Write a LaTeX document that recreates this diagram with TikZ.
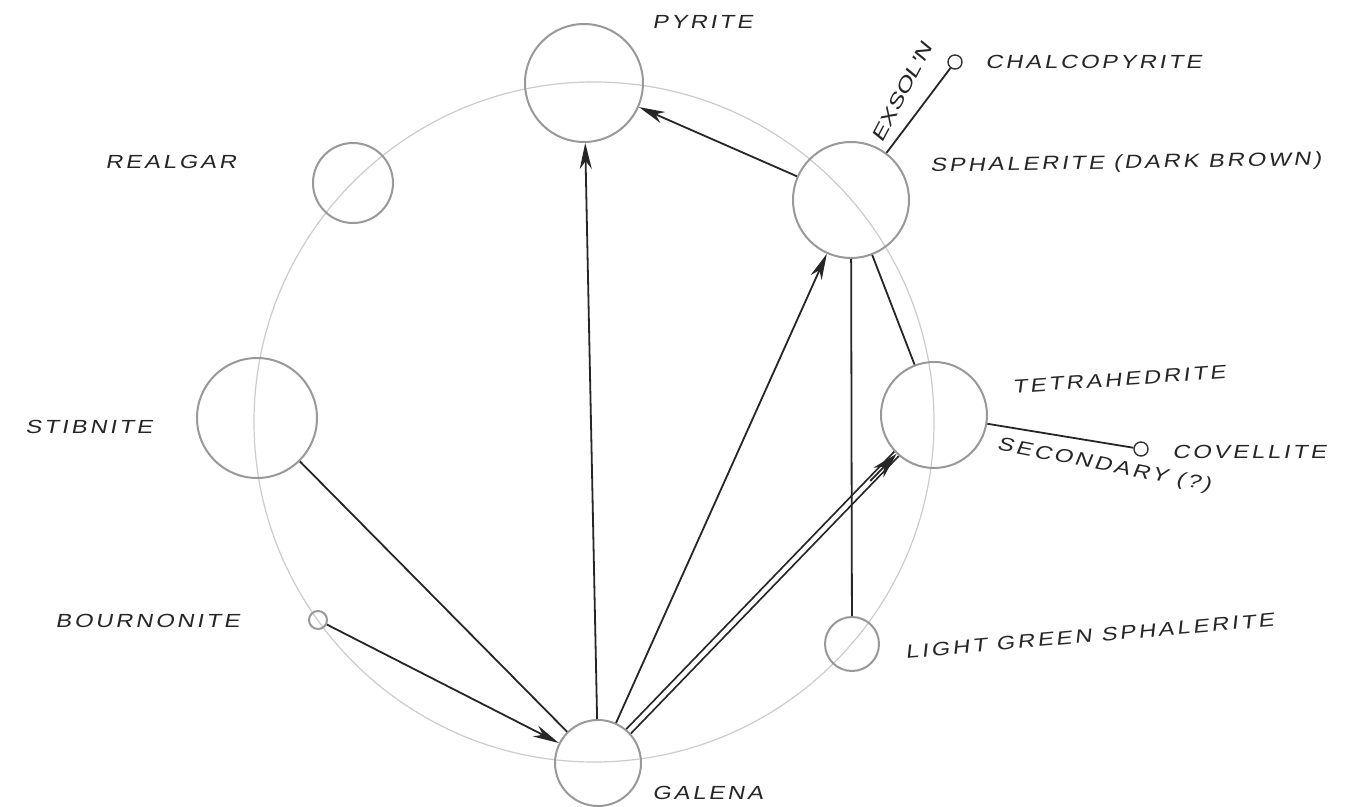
\documentclass[tikz,border=0pt]{standalone}
\usepackage{fontspec}
\newfontfamily\hand{Liberation Sans}[FakeSlant=0.2, FakeStretch=1.25, LetterSpace=15]
\newfontfamily\handtight{Liberation Sans}[FakeSlant=0.2, FakeStretch=1.35]
\usetikzlibrary{arrows.meta}
\begin{document}
\begin{tikzpicture}[x=0.5pt, y=-0.5pt,
  mineral/.style={circle, draw=black!40, line width=1pt, inner sep=0pt},
  tinyc/.style={circle, draw=black!80, line width=0.7pt, inner sep=0pt, minimum size=7pt},
  link/.style={draw=black!85, line width=0.9pt},
  arr/.style={link, -{Stealth[length=13pt, width=6pt, inset=4pt]}},
  lbl/.style={font=\fontsize{9.5}{11}\hand, text=black!85, inner sep=0pt},
]
\useasboundingbox[fill=white] (0,0) rectangle (1345,807);
\draw[black!20, line width=0.6pt] (594,422) circle[radius=170pt];

\node[mineral, minimum size=59pt] (pyrite) at (584,83) {};
\node[mineral, minimum size=40pt] (realgar) at (353,183) {};
\node[mineral, minimum size=60pt] (stibnite) at (257,418) {};
\node[mineral, minimum size=9pt] (bournonite) at (318,620) {};
\node[mineral, minimum size=43pt] (galena) at (598,763) {};
\node[mineral, minimum size=27pt] (lgsph) at (852,644) {};
\node[mineral, minimum size=53pt] (tetra) at (934,415) {};
\node[mineral, minimum size=58pt] (sphal) at (851,200) {};
\node[tinyc] (chalco) at (955,62) {};
\node[tinyc] (covel) at (1141,449) {};

\draw[link] (stibnite) -- (galena);
\draw[arr] (bournonite) -- (galena);
\draw[arr] (galena) -- (pyrite);
\draw[arr] (sphal) -- (pyrite);
\draw[arr] (galena) -- (sphal);
\draw[link, double=white, double distance=2.2pt] (galena) -- (tetra);
\draw[link, -{Stealth[length=13pt, width=7pt, inset=4pt]}, shorten <=174pt] (galena) -- (tetra);
\draw[link] (sphal) -- (lgsph);
\draw[link] (sphal) -- (tetra);
\draw[link] (sphal) -- (chalco);
\draw[link] (tetra) -- (covel);

\node[lbl, anchor=west] (lpyrite) at (652,22) {PYRITE};
\node[lbl, anchor=west] (lrealgar) at (105,162) {REALGAR};
\node[lbl, anchor=west] (lstibnite) at (25,427) {STIBNITE};
\node[lbl, anchor=west] (lbourn) at (55,621) {BOURNONITE};
\node[lbl, anchor=west] (lgalena) at (652,793) {GALENA};
\node[lbl, anchor=west, rotate=5] (llgsph) at (905,652) {LIGHT GREEN SPHALERITE};
\node[lbl, anchor=west, rotate=4] (ltetra) at (1012,387) {TETRAHEDRITE};
\node[lbl, anchor=west, rotate=-11] (lsec) at (997,445) {SECONDARY (?)};
\node[lbl, anchor=west] (lcovel) at (1172,452) {COVELLITE};
\node[lbl, anchor=west] (lchalco) at (985,62) {CHALCOPYRITE};
\node[lbl, anchor=west, rotate=1] (lsphal) at (930,167) {SPHALERITE (DARK BROWN)};
\node[lbl, font=\fontsize{9.5}{11}\handtight, rotate=62] (lexsol) at (902,92) {EXSOL'N};
\end{tikzpicture}
\end{document}
